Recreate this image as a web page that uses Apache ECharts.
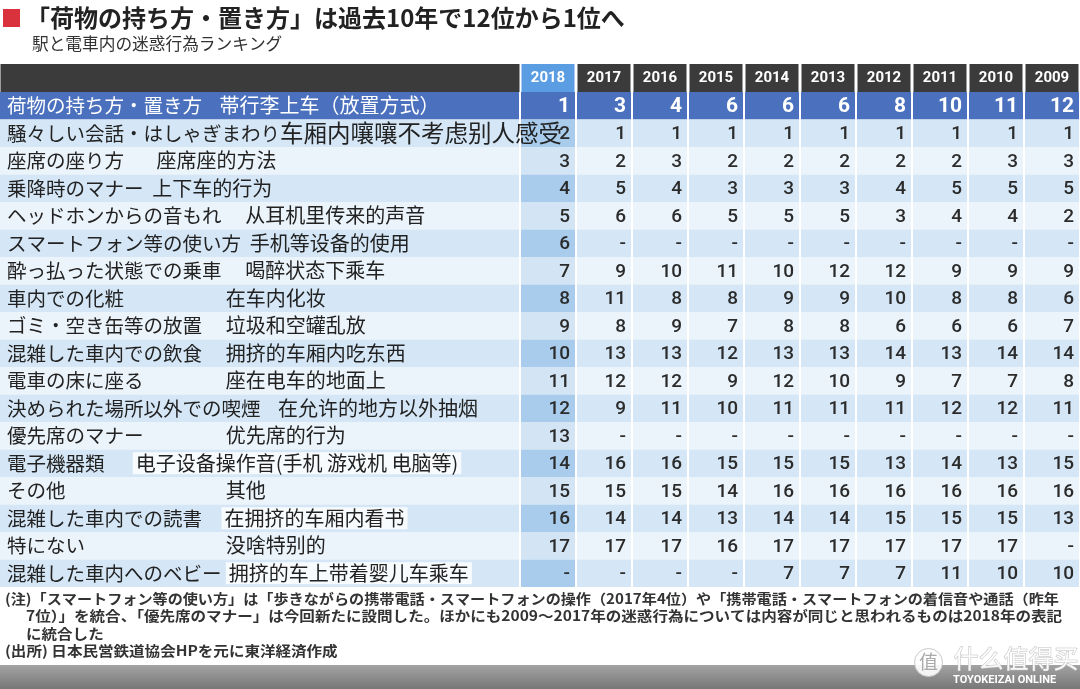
<!DOCTYPE html>
<html><head><meta charset="utf-8">
<script src="https://cdn.jsdelivr.net/npm/echarts@6/dist/echarts.min.js"></script>
<style>html,body{margin:0;padding:0;background:#fff}#c{width:1080px;height:689px}</style>
</head><body><div id="c"></div>
<script>
const titleText = '「荷物の持ち方・置き方」は過去10年で12位から1位へ';
const subtitleText = '駅と電車内の迷惑行為ランキング';
const years = ['2018','2017','2016','2015','2014','2013','2012','2011','2010','2009'];
const rowJa = ['荷物の持ち方・置き方','騒々しい会話・はしゃぎまわり','座席の座り方','乗降時のマナー','ヘッドホンからの音もれ','スマートフォン等の使い方','酔っ払った状態での乗車','車内での化粧','ゴミ・空き缶等の放置','混雑した車内での飲食','電車の床に座る','決められた場所以外での喫煙','優先席のマナー','電子機器類','その他','混雑した車内での読書','特にない','混雑した車内へのベビー'];
const rowZh = ['    帯行李上车（放置方式）','车厢内嚷嚷不考虑别人感受','\u3000   座席座的方法','  上下车的行为','\u3000 从耳机里传来的声音','  手机等设备的使用','\u3000 喝醉状态下乘车','\u3000\u3000\u3000\u3000\u3000 在车内化妆','\u3000 垃圾和空罐乱放','\u3000 拥挤的车厢内吃东西','\u3000\u3000\u3000\u3000 座在电车的地面上','    在允许的地方以外抽烟','\u3000\u3000\u3000\u3000 优先席的行为','\u3000  电子设备操作音(手机 游戏机 电脑等)','\u3000\u3000\u3000\u3000\u3000\u3000\u3000\u3000 其他','\u3000在拥挤的车厢内看书','\u3000\u3000\u3000\u3000\u3000\u3000\u3000 没啥特别的',' 拥挤的车上带着婴儿车乘车'];
const r2018 = [1,2,3,4,5,6,7,8,9,10,11,12,13,14,15,16,17,'-'];
const r2017 = [3,1,2,5,6,'-',9,11,8,13,12,9,'-',16,15,14,17,'-'];
const r2016 = [4,1,3,4,6,'-',10,8,9,13,12,11,'-',16,15,14,17,'-'];
const r2015 = [6,1,2,3,5,'-',11,8,7,12,9,10,'-',15,14,13,16,'-'];
const r2014 = [6,1,2,3,5,'-',10,9,8,13,12,11,'-',15,16,14,17,7];
const r2013 = [6,1,2,3,5,'-',12,9,8,13,10,11,'-',15,16,14,17,7];
const r2012 = [8,1,2,4,3,'-',12,10,6,14,9,11,'-',13,16,15,17,7];
const r2011 = [10,1,2,5,4,'-',9,8,6,13,7,12,'-',14,16,15,17,11];
const r2010 = [11,1,3,5,4,'-',9,8,6,14,7,12,'-',13,16,15,17,10];
const r2009 = [12,1,3,5,2,'-',9,6,7,14,8,11,'-',15,16,13,'-',10];
const noteLines = [
 '(注)「スマートフォン等の使い方」は「歩きながらの携帯電話・スマートフォンの操作（2017年4位）や「携帯電話・スマートフォンの着信音や通話（昨年',
 '7位）」を統合、「優先席のマナー」は今回新たに設問した。ほかにも2009～2017年の迷惑行為については内容が同じと思われるものは2018年の表記',
 'に統合した',
 '(出所) 日本民営鉄道協会HPを元に東洋経済作成'
];

const rankCols = [r2018,r2017,r2016,r2015,r2014,r2013,r2012,r2011,r2010,r2009];
const boxedRows = new Set([13,15,17]);
const JA = '"Noto Sans CJK JP", "Noto Sans CJK SC", sans-serif';
const ZH = '"Noto Sans CJK SC", "Noto Sans CJK JP", sans-serif';

function rowFill(i, j) {
  if (i === 0) return '#4a70be';
  if (j === 0) return i % 2 ? '#a9ccec' : '#d3e5f5';
  return i % 2 ? '#d5e7f6' : '#ecf4fb';
}

const labelData = rowJa.map((_, i) => [0, i]);
const cellData = [];
years.forEach((_, j) => rowJa.forEach((_, i) => cellData.push([j, i])));

const noteStyle = {fontSize: 14, fontWeight: 'bold', fontFamily: JA, fill: '#333', verticalAlign: 'middle'};
function noteText(k, x, y, sx) {
  return {type: 'text', x: x, y: y, scaleX: sx, style: Object.assign({text: noteLines[k], x: 0, y: 0}, noteStyle)};
}

const chart = echarts.init(document.getElementById('c'), null, {renderer: 'canvas'});
chart.setOption({
  animation: false,
  backgroundColor: '#fff',
  grid: [
    {left: 0, top: 92, width: 520, height: 495, outerBoundsMode: 'none', containLabel: false},
    {left: 520, top: 92, width: 560, height: 495, outerBoundsMode: 'none', containLabel: false}
  ],
  xAxis: [
    {gridIndex: 0, type: 'category', data: [''], position: 'top',
     axisLine: {show: false}, axisTick: {show: false}, splitLine: {show: false},
     axisLabel: {margin: 0, formatter: () => '{h| }',
       rich: {h: {width: 519, height: 28, backgroundColor: '#3b3b3b'}}}},
    {gridIndex: 1, type: 'category', data: years, position: 'top', z: 5,
     axisLine: {show: false}, axisTick: {show: false}, splitLine: {show: false},
     axisLabel: {margin: 0, interval: 0,
       formatter: v => (v === years[0] ? '{a|' + v + '}' : '{b|' + v + '}'),
       rich: {
         a: {width: 53, height: 28, lineHeight: 28, align: 'center', backgroundColor: '#5b9de3', color: '#fff', fontSize: 15, fontWeight: 'bold', fontFamily: 'Roboto'},
         b: {width: 53, height: 28, lineHeight: 28, align: 'center', backgroundColor: '#3b3b3b', color: '#fff', fontSize: 15, fontWeight: 'bold', fontFamily: 'Roboto'}
       }}}
  ],
  yAxis: [
    {gridIndex: 0, type: 'category', data: rowJa, inverse: true, show: false},
    {gridIndex: 1, type: 'category', data: rowJa, inverse: true, show: false}
  ],
  series: [
    {
      type: 'custom', xAxisIndex: 1, yAxisIndex: 1, z: 2, data: cellData,
      renderItem: (params, api) => {
        const j = api.value(0), i = api.value(1);
        const p = api.coord([j, i]); const s = api.size([1, 1]);
        const top = i === 0;
        return {type: 'group', children: [
          {type: 'rect', shape: {x: p[0] - s[0] / 2 + 1, y: p[1] - s[1] / 2, width: s[0] - 2, height: s[1]},
           style: {fill: rowFill(i, j)}},
          {type: 'text', style: {x: p[0] + s[0] / 2 - 6, y: p[1] + 1, text: String(rankCols[j][i]),
           align: 'right', verticalAlign: 'middle', fontFamily: 'Roboto',
           fontSize: top ? 21 : 19, fontWeight: top ? 'bold' : 500, fill: top ? '#fff' : '#2b2b2b'}}
        ]};
      }
    },
    {
      type: 'custom', xAxisIndex: 0, yAxisIndex: 0, z: 3, data: labelData,
      renderItem: (params, api) => {
        const i = api.value(1);
        const p = api.coord([0, i]); const s = api.size([1, 1]);
        const x0 = p[0] - s[0] / 2, y0 = p[1] - s[1] / 2;
        const m = rowZh[i].match(/^(\s*)([\s\S]*)$/);
        const zhKey = boxedRows.has(i) ? 'zb' : (i === 1 ? 'zl' : 'z');
        const txt = '{j|' + rowJa[i] + m[1] + '}{' + zhKey + '|' + m[2] + '}';
        const col = i === 0 ? '#fff' : '#222';
        return {type: 'group', children: [
          {type: 'rect', shape: {x: x0, y: y0, width: s[0] - 1, height: s[1]}, style: {fill: rowFill(i, 1)}},
          {type: 'text', style: {x: x0 + 7, y: p[1], text: txt, align: 'left', verticalAlign: 'middle',
            rich: {
              j: {fontSize: 19.5, fontFamily: JA, fill: col},
              z: {fontSize: 20, fontFamily: ZH, fill: col},
              zl: {fontSize: 23.5, fontFamily: ZH, fill: col},
              zb: {fontSize: 20, fontFamily: ZH, fill: col, backgroundColor: 'rgba(255,255,255,0.82)', padding: [1, 3, 1, 3]}
            }}}
        ]};
      }
    }
  ],
  graphic: [
    {type: 'rect', left: 3, top: 9, shape: {width: 17, height: 18}, style: {fill: '#d9323d'}},
    {type: 'text', left: 26, top: 4, style: {text: titleText, fontSize: 24, lineHeight: 28, fontWeight: 'bold', fontFamily: JA, fill: '#222'}},
    {type: 'text', left: 32, top: 34, style: {text: subtitleText, fontSize: 16.7, lineHeight: 20, fontFamily: JA, fill: '#333'}},
    noteText(0, 5, 599, 1.08),
    noteText(1, 26, 616, 1.11),
    noteText(2, 26, 634, 1.11),
    noteText(3, 5, 651, 1.11),
    {type: 'rect', left: 0, top: 665, shape: {width: 1080, height: 24},
     style: {fill: new echarts.graphic.LinearGradient(0, 0, 0, 1, [{offset: 0, color: '#a3a3a3'}, {offset: 1, color: '#777'}])}},
    {type: 'circle', left: 914, top: 648, shape: {r: 14}, style: {fill: 'rgba(255,255,255,0.9)', stroke: '#c8c8c8', lineWidth: 1}},
    {type: 'text', left: 919, top: 652, style: {text: '值', fontSize: 19, fontFamily: ZH, fill: '#aaa'}},
    {type: 'text', left: 953, top: 645, style: {text: '什么值得买', fontSize: 25, fontFamily: ZH, fill: 'rgba(255,255,255,0.9)', stroke: '#bdbdbd', lineWidth: 1}},
    {type: 'text', left: 953, top: 675, style: {text: 'TOYOKEIZAI ONLINE', fontSize: 11, fontWeight: 'bold', fontFamily: 'Roboto', fill: '#fff'}}
  ]
});
</script></body></html>
